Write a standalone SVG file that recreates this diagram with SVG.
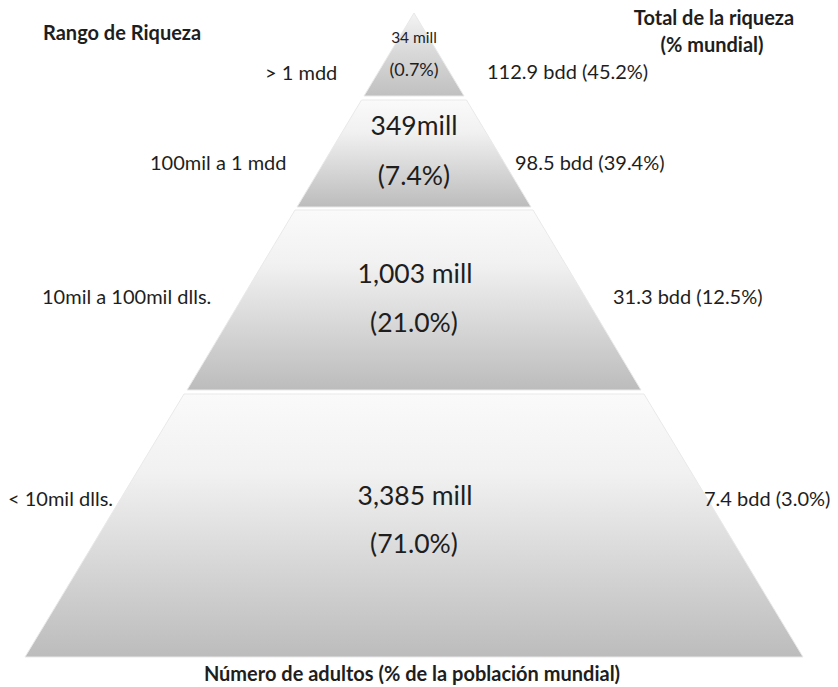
<svg xmlns="http://www.w3.org/2000/svg" width="838" height="687" viewBox="0 0 838 687">
<defs>
<linearGradient id="g" x1="0" y1="0" x2="0" y2="1">
<stop offset="0" stop-color="#fafafa"/>
<stop offset="0.3" stop-color="#f1f1f1"/>
<stop offset="1" stop-color="#bcbcbc"/>
</linearGradient>
<linearGradient id="gt" x1="0" y1="0" x2="0" y2="1">
<stop offset="0" stop-color="#f4f4f4"/>
<stop offset="0.45" stop-color="#dadada"/>
<stop offset="1" stop-color="#c0c0c0"/>
</linearGradient>
</defs>
<style>
.t{font-family:Lato,"Liberation Sans",sans-serif;fill:#1e1e1e}
.b{font-weight:bold}
.s{font-size:20px}
.c{font-size:26.5px;text-anchor:middle}
.h{font-size:20px}
.tier{stroke:#e9e9e9;stroke-width:1}
</style>
<rect width="838" height="687" fill="#ffffff"/>
<g id="tier1">
<polygon class="tier" points="414,13 464,96 364,96" fill="url(#gt)"/>
<text class="t" x="414" y="43" font-size="15.5" text-anchor="middle">34 mill</text>
<text class="t" x="414" y="76" font-size="18" text-anchor="middle">(0.7%)</text>
</g>
<g id="tier2">
<polygon class="tier" points="361.5,100 466.5,100 531,207 297,207" fill="url(#g)"/>
<text class="t c" x="414" y="135">349mill</text>
<text class="t c" x="414" y="185">(7.4%)</text>
</g>
<g id="tier3">
<polygon class="tier" points="295,210 533,210 641,390 187,390" fill="url(#g)"/>
<text class="t c" x="415" y="283">1,003 mill</text>
<text class="t c" x="414" y="332">(21.0%)</text>
</g>
<g id="tier4">
<polygon class="tier" points="184,394 644,394 803,657 25,657" fill="url(#g)"/>
<text class="t c" x="415" y="505">3,385 mill</text>
<text class="t c" x="414" y="553">(71.0%)</text>
</g>
<g id="labels-left">
<text class="t b h" x="43" y="40">Rango de Riqueza</text>
<text class="t s" x="265" y="80">&gt; 1 mdd</text>
<text class="t s" x="150" y="170">100mil a 1 mdd</text>
<text class="t s" x="42" y="304">10mil a 100mil dlls.</text>
<text class="t s" x="8" y="506">&lt; 10mil dlls.</text>
</g>
<g id="labels-right">
<text class="t b h" x="714" y="25" text-anchor="middle">Total de la riqueza</text>
<text class="t b h" x="712" y="52" text-anchor="middle">(% mundial)</text>
<text class="t s" x="487" y="79">112.9 bdd (45.2%)</text>
<text class="t s" x="515" y="170">98.5 bdd (39.4%)</text>
<text class="t s" x="613" y="304">31.3 bdd (12.5%)</text>
<text class="t s" x="704" y="506">7.4 bdd (3.0%)</text>
</g>
<g id="axis-label">
<text class="t b h" x="412" y="681" text-anchor="middle">Número de adultos (% de la población mundial)</text>
</g>
</svg>
